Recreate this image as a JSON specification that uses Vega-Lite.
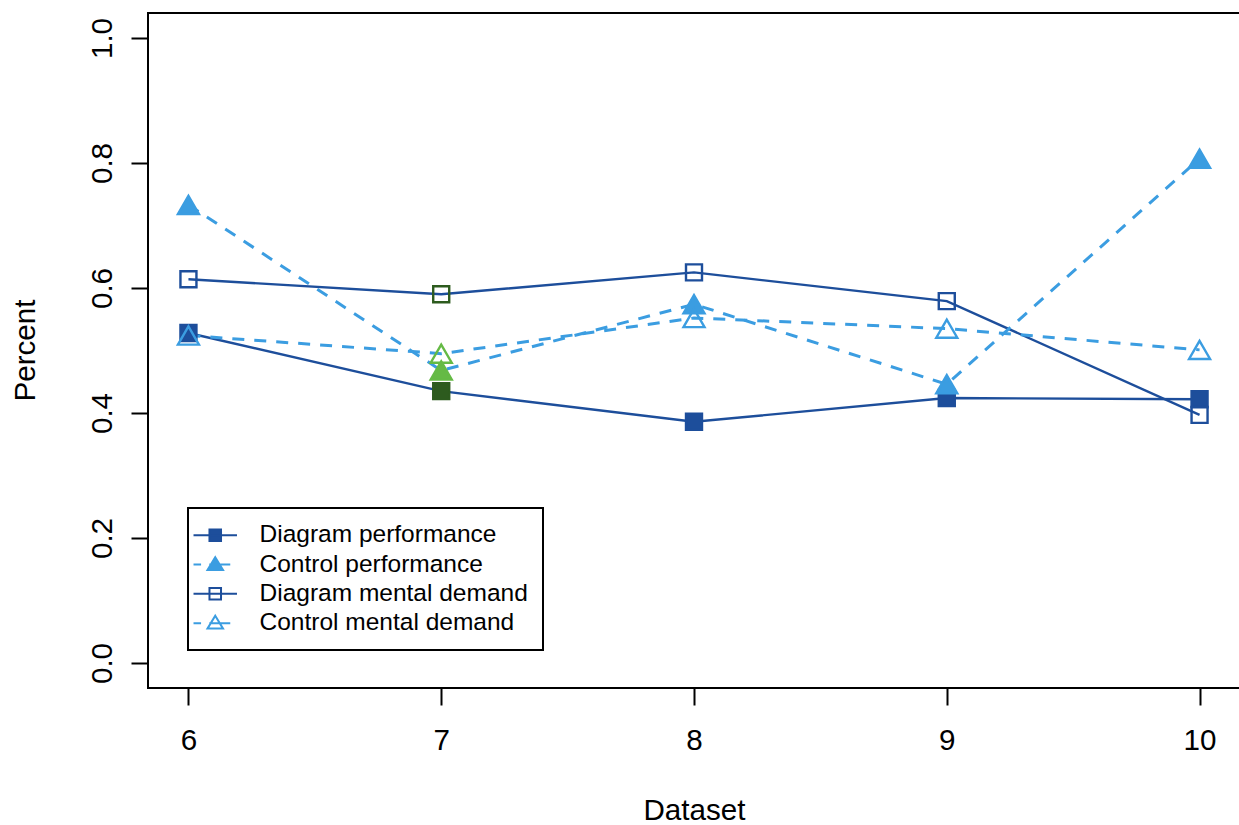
{
  "$schema": "https://vega.github.io/schema/vega-lite/v6.json",
  "width": 1092,
  "height": 675,
  "autosize": {"type": "none"},
  "padding": {"left": 148, "top": 13, "right": 0, "bottom": 137},
  "background": "white",
  "data": {
    "values": [
      {"Dataset": 6, "Series": "Diagram performance", "Percent": 0.528},
      {"Dataset": 7, "Series": "Diagram performance", "Percent": 0.435},
      {"Dataset": 8, "Series": "Diagram performance", "Percent": 0.386},
      {"Dataset": 9, "Series": "Diagram performance", "Percent": 0.424},
      {"Dataset": 10, "Series": "Diagram performance", "Percent": 0.422},
      {"Dataset": 6, "Series": "Control performance", "Percent": 0.733},
      {"Dataset": 7, "Series": "Control performance", "Percent": 0.468},
      {"Dataset": 8, "Series": "Control performance", "Percent": 0.574},
      {"Dataset": 9, "Series": "Control performance", "Percent": 0.446},
      {"Dataset": 10, "Series": "Control performance", "Percent": 0.807},
      {"Dataset": 6, "Series": "Diagram mental demand", "Percent": 0.614},
      {"Dataset": 7, "Series": "Diagram mental demand", "Percent": 0.590},
      {"Dataset": 8, "Series": "Diagram mental demand", "Percent": 0.625},
      {"Dataset": 9, "Series": "Diagram mental demand", "Percent": 0.579},
      {"Dataset": 10, "Series": "Diagram mental demand", "Percent": 0.397},
      {"Dataset": 6, "Series": "Control mental demand", "Percent": 0.524},
      {"Dataset": 7, "Series": "Control mental demand", "Percent": 0.495},
      {"Dataset": 8, "Series": "Control mental demand", "Percent": 0.552},
      {"Dataset": 9, "Series": "Control mental demand", "Percent": 0.535},
      {"Dataset": 10, "Series": "Control mental demand", "Percent": 0.501}
    ]
  },
  "encoding": {
    "x": {
      "field": "Dataset", "type": "quantitative",
      "scale": {"domain": [5.84, 10.16], "nice": false, "zero": false},
      "axis": {
        "values": [6, 7, 8, 9, 10], "title": "Dataset",
        "titleX": 546, "titleY": 122, "titleBaseline": "middle", "titleAlign": "center",
        "labelBaseline": "alphabetic", "labelPadding": 44
      }
    },
    "y": {
      "field": "Percent", "type": "quantitative",
      "scale": {"domain": [-0.04, 1.04], "nice": false, "zero": false},
      "axis": {
        "values": [0, 0.2, 0.4, 0.6, 0.8, 1.0], "format": ".1f", "title": "Percent",
        "labelAngle": -90, "labelAlign": "center", "labelBaseline": "alphabetic", "labelPadding": 20,
        "titleX": -123, "titleY": 337, "titleAngle": -90, "titleBaseline": "middle", "titleAlign": "center"
      }
    }
  },
  "layer": [
    {
      "transform": [{"filter": "indexof(datum.Series, 'Diagram') === 0"}],
      "mark": {"type": "line", "stroke": "#1D4E9B", "strokeWidth": 2.4},
      "encoding": {"detail": {"field": "Series"}}
    },
    {
      "transform": [{"filter": "indexof(datum.Series, 'Control') === 0"}],
      "mark": {"type": "line", "stroke": "#3B9DE1", "strokeWidth": 3, "strokeDash": [12, 10]},
      "encoding": {"detail": {"field": "Series"}}
    },
    {
      "mark": {"type": "point", "opacity": 0},
      "encoding": {
        "shape": {
          "field": "Series", "type": "nominal",
          "scale": {
            "domain": ["Diagram performance", "Control performance", "Diagram mental demand", "Control mental demand"],
            "range": [
              "M-2.07,0H2.07M-0.55,-0.55H0.55V0.55H-0.55Z",
              "M-2.07,0H-1.35M-0.57,0H1.43M0,-0.7L0.74,0.52L-0.74,0.52Z",
              "M-2.07,0H2.07M-0.55,-0.55H0.55V0.55H-0.55Z",
              "M-2.07,0H-1.35M-0.57,0H1.43M0,-0.7L0.74,0.52L-0.74,0.52Z"
            ]
          },
          "legend": {"title": null}
        },
        "stroke": {
          "field": "Series", "type": "nominal",
          "scale": {
            "domain": ["Diagram performance", "Control performance", "Diagram mental demand", "Control mental demand"],
            "range": ["#1D4E9B", "#3B9DE1", "#1D4E9B", "#3B9DE1"]
          },
          "legend": {"title": null}
        },
        "fill": {
          "field": "Series", "type": "nominal",
          "scale": {
            "domain": ["Diagram performance", "Control performance", "Diagram mental demand", "Control mental demand"],
            "range": ["#1D4E9B", "#3B9DE1", "transparent", "transparent"]
          },
          "legend": {"title": null}
        }
      }
    },
    {
      "mark": {"type": "point", "strokeWidth": 2.4, "opacity": 1},
      "encoding": {
        "shape": {
          "condition": {"test": "indexof(datum.Series, 'Control') === 0", "value": "triangle-up"},
          "value": "square"
        },
        "stroke": {
          "condition": [
            {"test": "datum.Dataset === 7 && indexof(datum.Series, 'Diagram') === 0", "value": "#2D5B1E"},
            {"test": "datum.Dataset === 7", "value": "#65BA45"},
            {"test": "indexof(datum.Series, 'Diagram') === 0", "value": "#1D4E9B"}
          ],
          "value": "#3B9DE1"
        },
        "fill": {
          "condition": [
            {"test": "datum.Dataset === 7 && datum.Series === 'Diagram performance'", "value": "#2D5B1E"},
            {"test": "datum.Dataset === 7 && datum.Series === 'Control performance'", "value": "#65BA45"},
            {"test": "datum.Series === 'Diagram performance'", "value": "#1D4E9B"},
            {"test": "datum.Series === 'Control performance'", "value": "#3B9DE1"}
          ],
          "value": "transparent"
        },
        "size": {
          "condition": {"test": "indexof(datum.Series, 'Control') === 0", "value": 441},
          "value": 256
        }
      }
    }
  ],
  "config": {
    "view": {"stroke": "black", "strokeWidth": 2},
    "font": "Liberation Sans",
    "axis": {
      "grid": false, "domain": false,
      "tickSize": 17, "tickWidth": 2, "tickColor": "black",
      "labelFont": "Liberation Sans", "labelFontSize": 29.6, "labelColor": "black",
      "titleFont": "Liberation Sans", "titleFontSize": 29.6, "titleColor": "black", "titleFontWeight": "normal"
    },
    "legend": {
      "orient": "none", "legendX": 40, "legendY": 495,
      "strokeColor": "black", "strokeWidth": 2, "fillColor": "white",
      "padding": 15, "rowPadding": 4.3, "labelOffset": 32, "symbolOffset": 0, "labelLimit": 500,
      "labelFont": "Liberation Sans", "labelFontSize": 24.5, "labelColor": "black",
      "symbolSize": 441, "symbolStrokeWidth": 2, "symbolOpacity": 1
    }
  }
}
